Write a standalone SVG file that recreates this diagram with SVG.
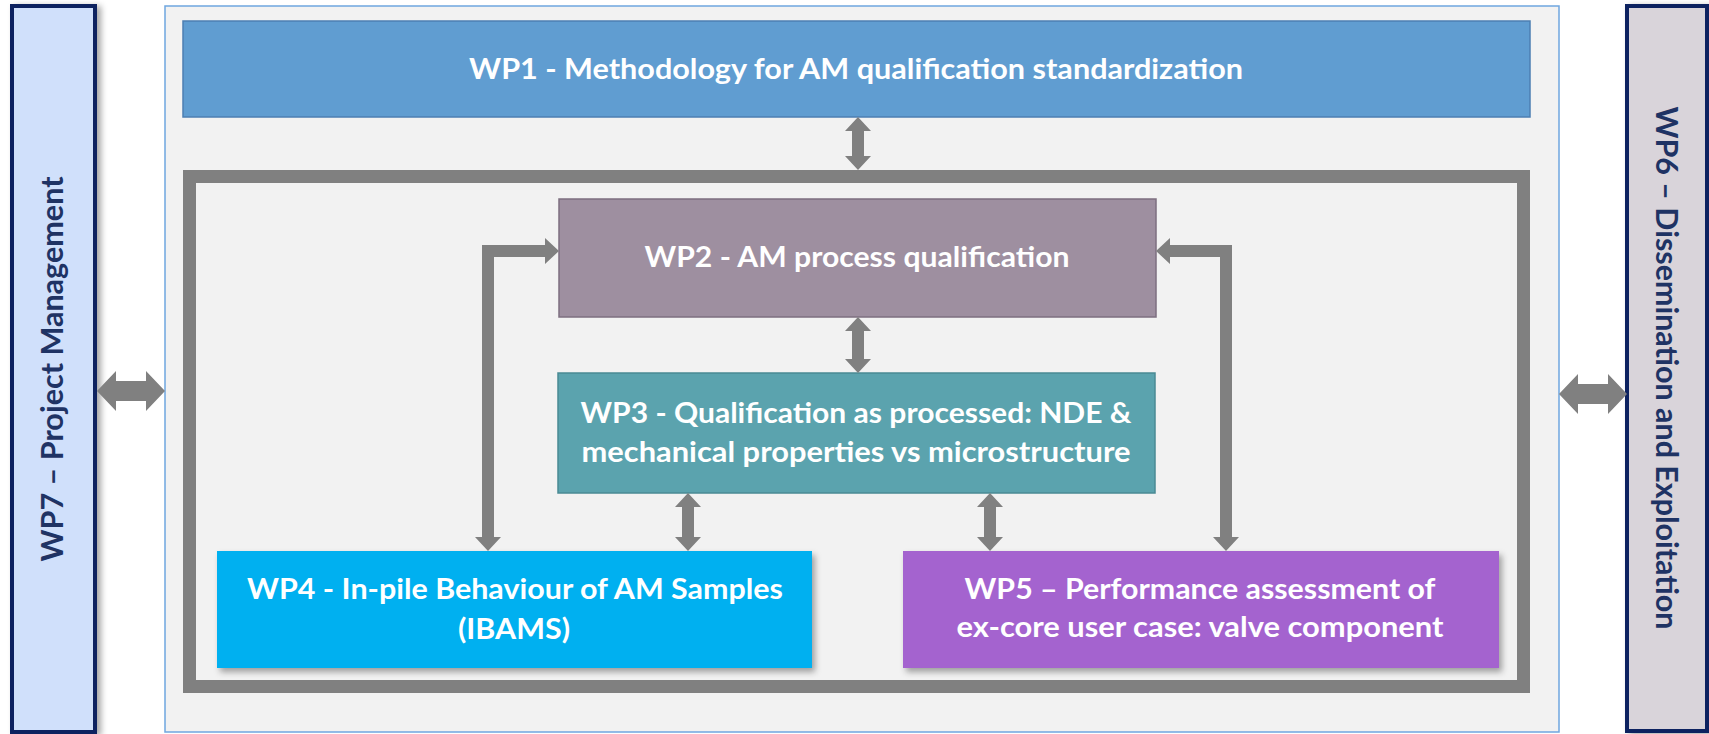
<svg xmlns="http://www.w3.org/2000/svg" width="1709" height="734" viewBox="0 0 1709 734">
<style>
.t{font-family:Lato,"Open Sans","Liberation Sans",sans-serif;font-weight:700;font-size:28.5px;fill:#ffffff;text-anchor:middle}
.v{font-family:Lato,"Open Sans","Liberation Sans",sans-serif;font-weight:700;font-size:31px;fill:#1f3364;text-anchor:middle}
.arr{fill:#808080}
</style>
<defs>
<filter id="sh" x="-10%" y="-20%" width="130%" height="150%">
<feDropShadow dx="3" dy="4" stdDeviation="3" flood-color="#000" flood-opacity="0.35"/>
</filter>
<filter id="shs" x="-20%" y="-5%" width="150%" height="110%">
<feDropShadow dx="4" dy="2" stdDeviation="3" flood-color="#000" flood-opacity="0.35"/>
</filter>
</defs>
<rect x="0" y="0" width="1709" height="734" fill="#ffffff"/>

<g id="panel">
<rect x="165" y="6" width="1394" height="726" fill="#f2f2f2" stroke="#6fa6df" stroke-width="1.5"/>
</g>

<g id="wp7">
<rect x="12" y="6" width="83" height="726" fill="#d0e0fb" stroke="#0c2460" stroke-width="4" filter="url(#shs)"/>
<text class="v" transform="translate(63,369) rotate(-90)" textLength="385" lengthAdjust="spacingAndGlyphs">WP7 – Project Management</text>
</g>

<g id="wp6">
<rect x="1627" y="6" width="80" height="725" fill="#d9d4da" stroke="#0c2460" stroke-width="4" filter="url(#shs)"/>
<text class="v" transform="translate(1656,368) rotate(90)" textLength="523" lengthAdjust="spacingAndGlyphs">WP6 – Dissemination and Exploitation</text>
</g>

<g id="wp1">
<rect x="183" y="21" width="1347" height="96" fill="#609dd1" stroke="#4c7fb2" stroke-width="1.5"/>
<text class="t" x="856" y="79" textLength="774" lengthAdjust="spacingAndGlyphs">WP1 - Methodology for AM qualification standardization</text>
</g>

<g id="frame">
<rect x="189.5" y="176.5" width="1334" height="510" fill="none" stroke="#808080" stroke-width="13"/>
</g>

<g id="wp2">
<rect x="559" y="199" width="597" height="118" fill="#9e8fa0" stroke="#7d6f80" stroke-width="1.5"/>
<text class="t" x="857" y="267" textLength="425" lengthAdjust="spacingAndGlyphs">WP2 - AM process qualification</text>
</g>

<g id="wp3">
<rect x="558" y="373" width="597" height="120" fill="#5ba3ae" stroke="#4a8a94" stroke-width="1.5"/>
<text class="t" x="856" y="423" textLength="551" lengthAdjust="spacingAndGlyphs">WP3 - Qualification as processed: NDE &amp;</text>
<text class="t" x="856" y="462" textLength="549" lengthAdjust="spacingAndGlyphs">mechanical properties vs microstructure</text>
</g>

<g id="wp4">
<rect x="217" y="551" width="595" height="117" fill="#00b0f0" filter="url(#sh)"/>
<text class="t" x="515" y="599" textLength="536" lengthAdjust="spacingAndGlyphs">WP4 - In-pile Behaviour of AM Samples</text>
<text class="t" x="514" y="639" textLength="112" lengthAdjust="spacingAndGlyphs">(IBAMS)</text>
</g>

<g id="wp5">
<rect x="903" y="551" width="596" height="117" fill="#a463cf" filter="url(#sh)"/>
<text class="t" x="1200" y="599" textLength="471" lengthAdjust="spacingAndGlyphs">WP5 – Performance assessment of</text>
<text class="t" x="1200" y="637" textLength="487" lengthAdjust="spacingAndGlyphs">ex-core user case: valve component</text>
</g>

<g id="connectors">
<path class="arr" d="M858,117 L871,131 L864,131 L864,156 L871,156 L858,170 L845,156 L852,156 L852,131 L845,131 Z"/>
<path class="arr" d="M858,317 L871,331 L864,331 L864,359 L871,359 L858,373 L845,359 L852,359 L852,331 L845,331 Z"/>
<path class="arr" d="M688,493 L701,507 L694,507 L694,537 L701,537 L688,551 L675,537 L682,537 L682,507 L675,507 Z"/>
<path class="arr" d="M990,493 L1003,507 L996,507 L996,537 L1003,537 L990,551 L977,537 L984,537 L984,507 L977,507 Z"/>
<path class="arr" d="M559,251 L545,264 L545,257 L494,257 L494,537 L501,537 L488,551 L475,537 L482,537 L482,245 L545,245 L545,238 Z"/>
<path class="arr" d="M1156,251 L1170,238 L1170,245 L1232,245 L1232,537 L1239,537 L1226,551 L1213,537 L1220,537 L1220,257 L1170,257 L1170,264 Z"/>
<path class="arr" d="M97,391 L116,371 L116,381 L146,381 L146,371 L165,391 L146,411 L146,401 L116,401 L116,411 Z"/>
<path class="arr" d="M1559,394 L1578,374 L1578,384 L1608,384 L1608,374 L1627,394 L1608,414 L1608,404 L1578,404 L1578,414 Z"/>
</g>
</svg>
